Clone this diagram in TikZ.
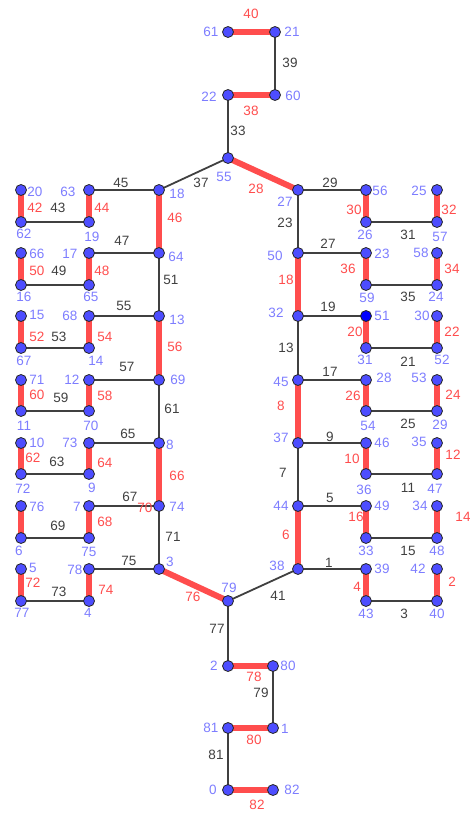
\documentclass[tikz,border=0pt]{standalone}
\usepackage{fontspec}
\setmainfont{Liberation Sans}
\pgfdeclarelayer{bg}
\pgfsetlayers{bg,main}
\definecolor{vfill}{RGB}{77,77,255}
\definecolor{vlab}{RGB}{125,125,255}
\definecolor{ered}{RGB}{255,77,77}
\definecolor{egray}{RGB}{64,64,64}
\tikzset{
  vtx/.style={circle,fill=vfill,draw=black!85,line width=0.8pt,minimum size=11pt,inner sep=0pt},
  nl/.style={text=vlab,inner sep=0pt,font=\fontsize{13.5}{14}\selectfont},
  elr/.style={text=ered,inner sep=0pt,font=\fontsize{13.5}{14}\selectfont},
  elb/.style={text=egray,inner sep=0pt,font=\fontsize{13.5}{14}\selectfont},
  redge/.style={draw=ered,line width=6pt},
  bedge/.style={draw=egray,line width=1.8pt}
}
\newcommand\V[3]{\node[vtx] (n#3) at (#1,#2) {};}
\newcommand\VL[3]{\node[nl] (v#3) at (#1,#2) {#3};}
\newcommand\ER[3]{\node[elr] (r#3) at (#1,#2) {#3};}
\newcommand\EB[3]{\node[elb] (b#3) at (#1,#2) {#3};}
\newcommand\RE[2]{\begin{pgfonlayer}{bg}\draw[redge] (n#1.center) -- (n#2.center);\end{pgfonlayer}}
\newcommand\BE[2]{\begin{pgfonlayer}{bg}\draw[bedge] (n#1.center) -- (n#2.center);\end{pgfonlayer}}
\begin{document}
\begin{tikzpicture}[x=1pt,y=-1pt]
\useasboundingbox (0,0) rectangle (469,814);
% vertices
\V{228}{32}{61} \V{275}{32}{21} \V{228}{95}{22} \V{275}{95}{60} \V{228}{158}{55}
\V{21}{190}{20} \V{89}{190}{63} \V{159}{190}{18}
\V{21}{222}{62} \V{89}{222}{19}
\V{21}{253}{66} \V{89}{253}{17} \V{159}{253}{64}
\V{21}{285}{16} \V{89}{285}{65}
\V{21}{316}{15} \V{89}{316}{68} \V{159}{316}{13}
\V{21}{348}{67} \V{89}{348}{14}
\V{21}{380}{71} \V{89}{380}{12} \V{159}{380}{69}
\V{21}{411}{11} \V{89}{411}{70}
\V{21}{443}{10} \V{89}{443}{73} \V{159}{443}{8}
\V{21}{474}{72} \V{89}{474}{9}
\V{21}{506}{76} \V{89}{506}{7} \V{159}{506}{74}
\V{21}{538}{6} \V{89}{538}{75}
\V{21}{569}{5} \V{89}{569}{78} \V{159}{569}{3}
\V{21}{601}{77} \V{89}{601}{4}
\V{298}{190}{27} \V{366}{190}{56} \V{437}{190}{25}
\V{366}{222}{26} \V{437}{222}{57}
\V{298}{253}{50} \V{366}{253}{23} \V{437}{253}{58}
\V{366}{285}{59} \V{437}{285}{24}
\V{298}{316}{32} \node[vtx,fill=blue] (n51) at (366,316) {}; \V{437}{316}{30}
\V{366}{348}{31} \V{437}{348}{52}
\V{298}{380}{45} \V{366}{380}{28} \V{437}{380}{53}
\V{366}{411}{54} \V{437}{411}{29}
\V{298}{443}{37} \V{366}{443}{46} \V{437}{443}{35}
\V{366}{474}{36} \V{437}{474}{47}
\V{298}{506}{44} \V{366}{506}{49} \V{437}{506}{34}
\V{366}{538}{33} \V{437}{538}{48}
\V{298}{569}{38} \V{366}{569}{39} \V{437}{569}{42}
\V{366}{601}{43} \V{437}{601}{40}
\V{228}{601}{79} \V{228}{666}{2} \V{273}{666}{80}
\V{228}{728}{81} \V{273}{728}{1} \V{228}{790}{0} \V{273}{790}{82}
% red edges
\RE{61}{21}\RE{22}{60}\RE{55}{27}\RE{20}{62}\RE{63}{19}\RE{18}{64}\RE{66}{16}\RE{17}{65}
\RE{15}{67}\RE{68}{14}\RE{13}{69}\RE{71}{11}\RE{12}{70}\RE{10}{72}\RE{73}{9}\RE{8}{74}
\RE{76}{6}\RE{7}{75}\RE{5}{77}\RE{78}{4}\RE{3}{79}\RE{2}{80}\RE{81}{1}\RE{0}{82}
\RE{56}{26}\RE{25}{57}\RE{50}{32}\RE{23}{59}\RE{58}{24}\RE{51}{31}\RE{30}{52}\RE{45}{37}
\RE{28}{54}\RE{53}{29}\RE{46}{36}\RE{35}{47}\RE{44}{38}\RE{49}{33}\RE{34}{48}\RE{39}{43}\RE{42}{40}
% gray edges
\BE{21}{60}\BE{22}{55}\BE{55}{18}\BE{27}{56}\BE{18}{63}\BE{62}{19}\BE{64}{17}\BE{16}{65}
\BE{64}{13}\BE{13}{68}\BE{67}{14}\BE{69}{12}\BE{11}{70}\BE{69}{8}\BE{8}{73}\BE{72}{9}
\BE{74}{7}\BE{6}{75}\BE{74}{3}\BE{3}{78}\BE{77}{4}\BE{79}{38}\BE{79}{2}\BE{80}{1}\BE{81}{0}
\BE{27}{50}\BE{50}{23}\BE{26}{57}\BE{59}{24}\BE{32}{51}\BE{32}{45}\BE{31}{52}\BE{45}{28}
\BE{54}{29}\BE{37}{46}\BE{37}{44}\BE{36}{47}\BE{44}{49}\BE{33}{48}\BE{38}{39}\BE{43}{40}
% vertex labels
\VL{211}{32}{61}\VL{292}{32}{21}\VL{209}{97}{22}\VL{293}{96}{60}\VL{224}{177}{55}\VL{285}{202}{27}
\VL{35}{192}{20}\VL{68}{192}{63}\VL{177}{194}{18}\VL{24}{234}{62}\VL{92}{237}{19}
\VL{37}{254}{66}\VL{70}{254}{17}\VL{176}{257}{64}\VL{24}{297}{16}\VL{91}{297}{65}
\VL{37}{315}{15}\VL{70}{316}{68}\VL{177}{320}{13}\VL{24}{361}{67}\VL{96}{361}{14}
\VL{37}{380}{71}\VL{72}{380}{12}\VL{178}{380}{69}\VL{24}{426}{11}\VL{91}{426}{70}
\VL{37}{443}{10}\VL{70}{443}{73}\VL{170}{445}{8}\VL{23}{489}{72}\VL{92}{488}{9}
\VL{37}{507}{76}\VL{77}{507}{7}\VL{177}{507}{74}\VL{19}{551}{6}\VL{89}{552}{75}
\VL{33}{568}{5}\VL{75}{570}{78}\VL{170}{562}{3}\VL{22}{613}{77}\VL{88}{613}{4}
\VL{380}{191}{56}\VL{419}{191}{25}\VL{365}{235}{26}\VL{440}{237}{57}
\VL{275}{256}{50}\VL{382}{254}{23}\VL{421}{253}{58}\VL{367}{298}{59}\VL{436}{297}{24}
\VL{276}{313}{32}\VL{382}{316}{51}\VL{422}{316}{30}\VL{365}{360}{31}\VL{442}{360}{52}
\VL{281}{382}{45}\VL{384}{378}{28}\VL{419}{378}{53}\VL{368}{426}{54}\VL{440}{425}{29}
\VL{281}{438}{37}\VL{382}{443}{46}\VL{419}{442}{35}\VL{364}{490}{36}\VL{435}{489}{47}
\VL{281}{506}{44}\VL{382}{506}{49}\VL{420}{506}{34}\VL{366}{551}{33}\VL{437}{551}{48}
\VL{277}{566}{38}\VL{382}{569}{39}\VL{418}{569}{42}\VL{366}{614}{43}\VL{437}{614}{40}
\VL{229}{588}{79}\VL{214}{666}{2}\VL{288}{666}{80}\VL{211}{728}{81}\VL{285}{729}{1}
\VL{213}{790}{0}\VL{292}{790}{82}
% red edge labels
\ER{251}{14}{40}\ER{251}{111}{38}\ER{256}{189}{28}\ER{35}{208}{42}\ER{102}{208}{44}\ER{175}{218}{46}
\ER{37}{271}{50}\ER{102}{271}{48}\ER{37}{337}{52}\ER{105}{337}{54}\ER{175}{347}{56}
\ER{37}{395}{60}\ER{105}{396}{58}\ER{33}{458}{62}\ER{105}{463}{64}\ER{177}{476}{66}
\ER{145}{508}{70}\ER{105}{522}{68}\ER{33}{583}{72}\ER{106}{590}{74}\ER{193}{597}{76}
\ER{354}{210}{30}\ER{449}{210}{32}\ER{348}{269}{36}\ER{452}{269}{34}\ER{286}{280}{18}
\ER{355}{332}{20}\ER{452}{332}{22}\ER{353}{396}{26}\ER{453}{395}{24}\ER{281}{406}{8}
\ER{352}{459}{10}\ER{453}{455}{12}\ER{356}{517}{16}\ER{463}{517}{14}\ER{286}{535}{6}
\ER{357}{587}{4}\ER{452}{582}{2}\ER{254}{677}{78}\ER{254}{740}{80}\ER{257}{805}{82}
% gray edge labels
\EB{290}{63}{39}\EB{238}{131}{33}\EB{201}{183}{37}\EB{330}{183}{29}\EB{121}{183}{45}
\EB{58}{208}{43}\EB{122}{241}{47}\EB{59}{271}{49}\EB{171}{280}{51}\EB{124}{306}{55}
\EB{59}{337}{53}\EB{127}{367}{57}\EB{61}{398}{59}\EB{172}{409}{61}\EB{128}{434}{65}
\EB{57}{462}{63}\EB{130}{497}{67}\EB{58}{526}{69}\EB{173}{537}{71}\EB{129}{561}{75}
\EB{59}{592}{73}\EB{285}{223}{23}\EB{328}{244}{27}\EB{408}{235}{31}\EB{408}{297}{35}
\EB{328}{307}{19}\EB{286}{348}{13}\EB{408}{362}{21}\EB{330}{372}{17}\EB{408}{424}{25}
\EB{330}{437}{9}\EB{283}{473}{7}\EB{408}{488}{11}\EB{330}{498}{5}\EB{408}{551}{15}
\EB{329}{563}{1}\EB{404}{614}{3}\EB{278}{596}{41}\EB{217}{629}{77}\EB{261}{693}{79}
\EB{216}{755}{81}
\end{tikzpicture}
\end{document}
